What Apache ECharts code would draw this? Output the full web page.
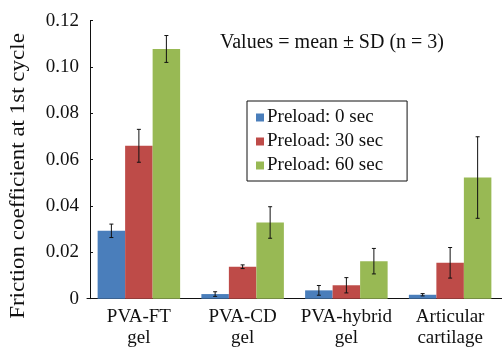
<!DOCTYPE html>
<html><head><meta charset="utf-8">
<script src="https://cdn.jsdelivr.net/npm/echarts@6/dist/echarts.min.js"></script>
<style>html,body{margin:0;padding:0;background:#fff}#c{width:502px;height:351px}</style>
</head><body><div id="c"></div>
<script>
const categories = ['PVA-FT\ngel', 'PVA-CD\ngel', 'PVA-hybrid\ngel', 'Articular\ncartilage'];
const seriesNames = ['Preload: 0 sec', 'Preload: 30 sec', 'Preload: 60 sec'];
const mean0 = [0.0293, 0.0020, 0.0036, 0.0017];
const sd0 = [0.0029, 0.0010, 0.0021, 0.0005];
const mean30 = [0.0660, 0.0138, 0.0058, 0.0155];
const sd30 = [0.0071, 0.0008, 0.0033, 0.0066];
const mean60 = [0.1078, 0.0329, 0.0162, 0.0523];
const sd60 = [0.0058, 0.0068, 0.0055, 0.0176];
const yTicks = [0, 0.02, 0.04, 0.06, 0.08, 0.10, 0.12];
const colors = ['#4A7EBB', '#BE4B48', '#98B954'];
const FONT = 'Liberation Serif';
const BW = 27.5;
const means = [mean0, mean30, mean60];
const sds = [sd0, sd30, sd60];

const chart = echarts.init(document.getElementById('c'));
const series = [];
means.forEach((m, i) => {
  series.push({
    name: seriesNames[i], type: 'bar', data: m, barWidth: BW, barGap: '0%',
    itemStyle: { color: colors[i] }, z: 2
  });
});
means.forEach((m, i) => {
  const offs = (i - 1) * BW;
  series.push({
    type: 'custom', name: 'err' + i, z: 5, silent: true,
    data: m.map((v, k) => [k, v - sds[i][k], v + sds[i][k]]),
    renderItem: function (params, api) {
      const lo = api.coord([api.value(0), api.value(1)]);
      const hi = api.coord([api.value(0), api.value(2)]);
      const x = lo[0] + offs;
      const cap = 2;
      const st = { stroke: '#111', lineWidth: 1 };
      return { type: 'group', children: [
        { type: 'line', shape: { x1: x, y1: lo[1], x2: x, y2: hi[1] }, style: st },
        { type: 'line', shape: { x1: x - cap, y1: lo[1], x2: x + cap, y2: lo[1] }, style: st },
        { type: 'line', shape: { x1: x - cap, y1: hi[1], x2: x + cap, y2: hi[1] }, style: st }
      ]};
    }
  });
});

chart.setOption({
  backgroundColor: '#fff',
  animation: false,
  textStyle: { fontFamily: FONT },
  grid: { left: 87, right: -3, top: 20.7, bottom: 52.3, containLabel: false },
  legend: {
    data: seriesNames, orient: 'vertical', left: 247, top: 101,
    borderColor: '#111', borderWidth: 1, padding: [7, 24, 6, 9],
    itemWidth: 8, itemHeight: 8, itemGap: 5, icon: 'rect',
    textStyle: { fontFamily: FONT, fontSize: 19, color: '#111', padding: [0, 0, 0, -2] }
  },
  xAxis: {
    type: 'category', data: categories,
    axisLine: { lineStyle: { color: '#111', width: 1 } },
    axisTick: { show: false },
    axisLabel: { interval: 0, fontFamily: FONT, fontSize: 19, color: '#111', lineHeight: 21, margin: 8 }
  },
  yAxis: {
    type: 'value', min: 0, max: 0.12, interval: 0.02, offset: -3,
    splitLine: { show: false },
    axisLine: { show: true, lineStyle: { color: '#111', width: 1 } },
    axisTick: { show: true, inside: true, length: 3, lineStyle: { color: '#111' } },
    axisLabel: {
      fontFamily: FONT, fontSize: 19, color: '#111', margin: 11,
      formatter: v => { const t = yTicks.find(x => Math.abs(x - v) < 1e-9); return t === 0 ? '0' : (t !== undefined ? t.toFixed(2) : ''); }
    }
  },
  graphic: [
    { type: 'text', x: 332, y: 43, style: { text: 'Values = mean \u00b1 SD (n = 3)', fontFamily: FONT, fontSize: 20, fill: '#111', align: 'center', verticalAlign: 'middle' } },
    { type: 'text', x: 19, y: 176, rotation: Math.PI / 2, scaleX: 1.15,
      style: { text: 'Friction coefficient at 1st cycle', fontFamily: FONT, fontSize: 20, fill: '#111', align: 'center', verticalAlign: 'middle' } }
  ],
  series: series
});
</script></body></html>
